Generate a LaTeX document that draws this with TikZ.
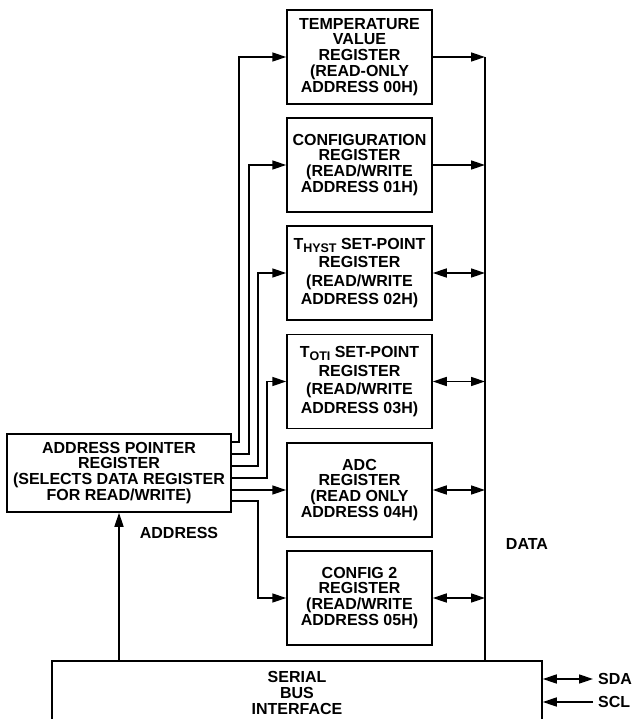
\documentclass[tikz,border=0pt]{standalone}
\usepackage{fontspec}
\setmainfont{Liberation Sans}
\usetikzlibrary{arrows.meta}
\begin{document}
\begin{tikzpicture}[x=1pt,y=-1pt,
  every node/.style={font=\fontsize{16}{15.9}\selectfont\bfseries, align=center},
  reg/.style={draw, line width=1.5pt, minimum width=145pt, minimum height=94pt, inner sep=0pt},
  widereg/.style={reg, font=\fontsize{16}{18.4}\selectfont\bfseries},
  wire/.style={line width=1.5pt},
  arr/.style={wire, -{Triangle[length=14pt,width=9pt]}},
  darr/.style={wire, {Triangle[length=14pt,width=9pt]}-{Triangle[length=14pt,width=9pt]}},
  lbl/.style={inner sep=0pt}
]
\useasboundingbox (0,0) rectangle (633,719);
\clip (0,0) rectangle (633,719);

% registers
\node[reg] (r1) at (359.5,57) {TEMPERATURE\\VALUE\\REGISTER\\(READ-ONLY\\ADDRESS 00H)};
\node[reg] (r2) at (359.5,165) {CONFIGURATION\\REGISTER\\(READ/WRITE\\ADDRESS 01H)};
\node[widereg] (r3) at (359.5,273) {T\raisebox{-3pt}{\fontsize{12.5}{12.5}\selectfont HYST} SET-POINT\\REGISTER\\(READ/WRITE\\ADDRESS 02H)};
\node[widereg] (r4) at (359.5,381.5) {T\raisebox{-3pt}{\fontsize{12.5}{12.5}\selectfont OTI} SET-POINT\\REGISTER\\(READ/WRITE\\ADDRESS 03H)};
\node[reg] (r5) at (359.5,490) {ADC\\REGISTER\\(READ ONLY\\ADDRESS 04H)};
\node[reg] (r6) at (359.5,598) {CONFIG 2\\REGISTER\\(READ/WRITE\\ADDRESS 05H)};

% address pointer
\node[draw, line width=1.5pt, minimum width=224pt, minimum height=78pt, inner sep=0pt] (apr) at (119,473)
  {ADDRESS POINTER\\REGISTER\\(SELECTS DATA REGISTER\\FOR READ/WRITE)};

% serial bus interface
\node[draw, line width=1.5pt, minimum width=490pt, minimum height=64pt, inner sep=0pt] (sbi) at (297,693)
  {SERIAL\\BUS\\INTERFACE};

% labels
\node[lbl] (addrlbl) at (179,533) {ADDRESS};
\node[lbl] (datalbl) at (527,544) {DATA};
\node[lbl, anchor=west] (sda) at (598,679) {SDA};
\node[lbl, anchor=west] (scl) at (598,702) {SCL};

% helper coordinates
\coordinate (y1) at (0,442);
\coordinate (y2) at (0,454);
\coordinate (y3) at (0,466);
\coordinate (y4) at (0,478);
\coordinate (y6) at (0,501);
\coordinate (c1) at (239,0);
\coordinate (c2) at (249,0);
\coordinate (c3) at (258,0);
\coordinate (c4) at (267,0);
\coordinate (bus) at (485,0);

% address lines
\draw[arr] (apr.east |- y1) -| (c1 |- r1.west) -- (r1.west);
\draw[arr] (apr.east |- y2) -| (c2 |- r2.west) -- (r2.west);
\draw[arr] (apr.east |- y3) -| (c3 |- r3.west) -- (r3.west);
\draw[arr] (apr.east |- y4) -| (c4 |- r4.west) -- (r4.west);
\draw[arr] (apr.east |- r5.west) -- (r5.west);
\draw[arr] (apr.east |- y6) -| (c3 |- r6.west) -- (r6.west);

% data bus
\draw[wire] (bus |- r1.east) -- (bus |- sbi.north);
\draw[arr] (r1.east) -- (bus |- r1.east);
\draw[arr] (r2.east) -- (bus |- r2.east);
\draw[darr] (r3.east) -- (bus |- r3.east);
\draw[darr] (r4.east) -- (bus |- r4.east);
\draw[darr] (r5.east) -- (bus |- r5.east);
\draw[darr] (r6.east) -- (bus |- r6.east);

% address from serial
\draw[arr] (sbi.north -| apr.south) -- (apr.south);

% SDA / SCL
\draw[darr] (sbi.east |- sda.west) -- ([xshift=-5pt]sda.west);
\draw[arr] ([xshift=-5pt]scl.west) -- (sbi.east |- scl.west);
\end{tikzpicture}
\end{document}
